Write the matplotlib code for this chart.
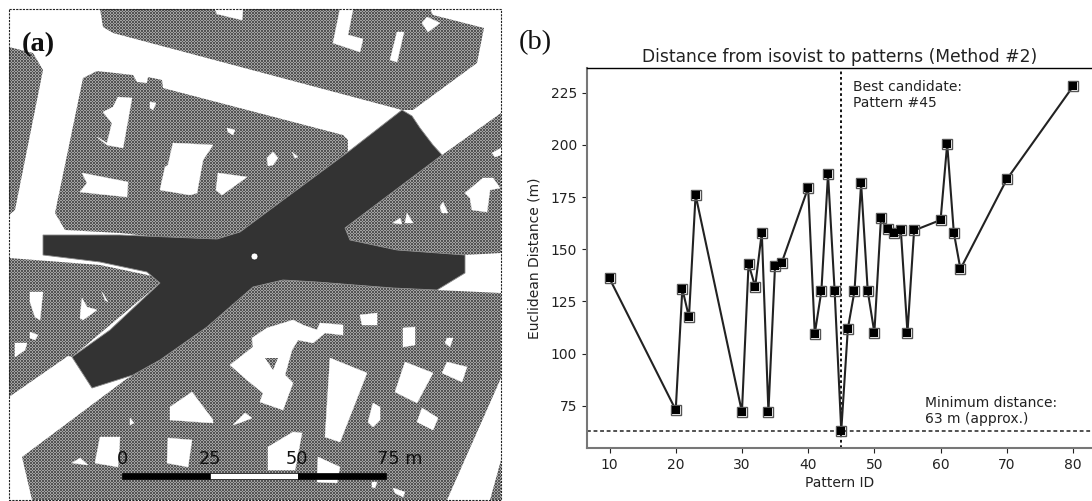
import numpy as np
import matplotlib
matplotlib.use("Agg")
import matplotlib.pyplot as plt
from matplotlib.path import Path
from matplotlib.patches import Polygon, PathPatch, Rectangle

# ---- chart (b) data ----
pattern_ids = [10, 20, 21, 22, 23, 30, 31, 32, 33, 34, 35, 36, 40, 41, 42, 43, 44, 45,
               46, 47, 48, 49, 50, 51, 52, 53, 54, 55, 56, 60, 61, 62, 63, 70, 80]
distances = [136, 73, 131, 117.5, 176, 72, 143, 132, 158, 72, 142, 143.5, 179.5, 109.5,
             130, 186, 130, 63, 112, 130, 181.5, 130, 110, 165, 159.5, 158, 159, 110,
             159, 164, 200.5, 158, 140.5, 183.5, 228]
best_id = 45
min_dist = 63
x_ticks = [10, 20, 30, 40, 50, 60, 70, 80]
y_ticks = [75, 100, 125, 150, 175, 200, 225]
title = "Distance from isovist to patterns (Method #2)"
scale_labels = ["0", "25", "50", "75 m"]

# ---- map (a) outlines, in image pixels ----
blocks = [
    [(100,9),(103,27),(113,33),(402,110),(413,110),(477,63),(484,28),(433,15),(430,9)],
    [(9,47),(33,53),(43,70),(15,210),(9,215)],
    [(83,78),(97,71),(133,75),(137,82),(147,83),(148,77),(162,80),(163,88),(343,135),
     (348,140),(348,152),(283,200),(240,232),(217,239),(157,237),(120,233),(65,230),(55,213)],
    [(442,155),(501,113),(501,253),(465,255),(397,250),(350,240),(345,228)],
    [(9,258),(100,265),(157,277),(160,283),(72,357),(68,356),(9,397)],
    [(22,457),(125,380),(133,375),(160,360),(207,327),(253,287),(283,280),(317,282),
     (393,288),(437,290),(501,293),(501,378),(447,500),(32,500)],
    [(501,460),(490,500),(501,500)],
]
holes = [
    [(215,9),(243,9),(242,20),(217,14)],
    [(340,9),(353,9),(348,35),(363,39),(360,52),(333,43)],
    [(397,32),(404,32),(397,62),(390,60)],
    [(427,17),(440,23),(428,32),(422,23)],
    [(118,97),(132,98),(123,148),(107,145),(97,137),(107,143),(112,123),(103,112),(113,107)],
    [(150,102),(156,103),(153,110),(150,108)],
    [(227,128),(235,130),(233,135),(228,132)],
    [(173,143),(213,145),(203,160),(197,193),(190,195),(160,190),(165,167),(168,165)],
    [(267,158),(273,152),(278,158),(273,165),(268,166)],
    [(292,152),(298,157),(295,158)],
    [(82,173),(128,182),(127,197),(80,192),(87,183)],
    [(218,173),(247,177),(222,195),(216,190)],
    [(492,153),(501,148),(501,155),(495,157)],
    [(465,193),(483,178),(493,178),(500,188),(490,190),(487,212),(472,210),(470,198)],
    [(443,202),(448,213),(442,213),(440,207)],
    [(407,213),(413,223),(405,223)],
    [(393,223),(400,218),(402,224)],
    [(30,292),(43,292),(40,320),(35,317),(30,302)],
    [(82,298),(87,307),(97,310),(83,320),(80,318)],
    [(102,292),(108,302),(105,300)],
    [(30,332),(38,335),(35,340),(30,338)],
    [(15,343),(27,343),(25,350),(15,357)],
    [(267,328),(293,320),(303,325),(317,330),(320,323),(343,325),(343,335),(325,333),
     (313,343),(298,340),(292,350),(285,375),(293,383),(283,410),(260,402),(263,393),
     (247,380),(230,365),(253,347),(252,338)],
    [(360,315),(377,313),(377,325),(362,325)],
    [(403,328),(415,327),(415,345),(403,347)],
    [(447,338),(453,338),(450,347),(445,343)],
    [(330,358),(367,373),(340,442),(325,437)],
    [(405,362),(433,373),(417,403),(395,392)],
    [(447,362),(467,367),(462,382),(442,373)],
    [(373,403),(380,407),(380,420),(373,427),(368,422)],
    [(422,408),(438,418),(433,430),(417,422)],
    [(192,392),(213,420),(213,423),(170,420),(170,407)],
    [(233,425),(245,413),(252,418),(242,422)],
    [(130,418),(134,423),(130,425)],
    [(100,437),(120,437),(118,467),(95,463)],
    [(168,438),(192,440),(188,467),(167,463)],
    [(268,447),(293,432),(302,433),(295,470),(268,470)],
    [(318,457),(340,467),(337,483),(317,482)],
    [(72,463),(80,458),(88,465)],
    [(372,482),(377,482),(375,488),(372,487)],
    [(393,488),(405,492),(403,497),(395,493)],
]
islands = [[(265,358),(278,358),(273,370)]]
isovist = [(402,110),(412,116),(420,128),(433,145),(442,155),(345,228),(350,240),(397,250),
           (465,255),(465,273),(437,290),(393,288),(317,282),(283,280),(253,287),(207,327),
           (160,360),(133,375),(92,388),(72,357),(110,330),(160,283),(147,272),(100,262),
           (43,255),(43,235),(120,235),(217,239),(240,232),(283,200),(348,152)]
viewpoint = (254, 256)

fig = plt.figure(figsize=(10.92, 5.01), dpi=100)
ax0 = fig.add_axes([0, 0, 1, 1])
ax0.set_xlim(0, 1092)
ax0.set_ylim(501, 0)
ax0.axis("off")

# textured ground of the blocks
jj, ii = np.mgrid[0:501, 0:1092]
tex = np.where((np.floor(ii / 1.5) + np.floor(jj / 1.5)) % 2 == 0, 0.33, 0.64)


def textured(polys, z):
    im = ax0.imshow(tex, cmap="gray", vmin=0, vmax=1, extent=(0, 1092, 501, 0),
                    interpolation="nearest", aspect="auto", zorder=z)
    verts, codes = [], []
    for poly in polys:
        verts += poly + [poly[0]]
        codes += [Path.MOVETO] + [Path.LINETO] * (len(poly) - 1) + [Path.CLOSEPOLY]
    clip = PathPatch(Path(verts, codes), transform=ax0.transData, fc="none", ec="none")
    ax0.add_patch(clip)
    im.set_clip_path(clip)


textured(blocks, 1)
for poly in holes:
    ax0.add_patch(Polygon(poly, closed=True, fc="white", ec="white", lw=0.3, zorder=2))
textured(islands, 3)
ax0.set_xlim(0, 1092)
ax0.set_ylim(501, 0)
ax0.add_patch(Polygon(isovist, closed=True, fc="#333333", ec="#8a8a8a", lw=0.6, zorder=4))
ax0.plot(*viewpoint, "o", ms=5, mfc="white", mec="#222222", mew=0.5, zorder=5)

# frame
ax0.add_patch(Rectangle((8.5, 9), 492.5, 491, fc="none", ec="#222222", lw=0.8,
                        ls=(0, (2, 1)), zorder=6))

# scale bar
bar_x = [122, 210, 298, 386]
for k in range(3):
    ax0.add_patch(Rectangle((bar_x[k], 473), bar_x[k + 1] - bar_x[k], 6, zorder=7,
                            fc="white" if k == 1 else "black", ec="black", lw=0.5))
for xp, lab in zip([122.5, 210.5, 297, 400], scale_labels):
    ax0.text(xp, 459, lab, ha="center", va="center", fontsize=12.8, color="#111111", zorder=8)

ax0.text(22, 45, "(a)", family="Liberation Serif", fontweight="bold", fontsize=20.5,
         ha="left", va="center", color="#111111", zorder=9)
ax0.text(519, 43, "(b)", family="Liberation Serif", fontsize=20.5, ha="left", va="center",
         color="#111111", zorder=9)

# chart (b)
ax = fig.add_axes([587 / 1092, 1 - 448.3 / 501, (1092 - 587) / 1092, (448.3 - 68.3) / 501])
ax.set_xlim(6.6, 82.87)
ax.set_ylim(54.6, 236.7)
ax.plot(pattern_ids, distances, "-", color="#222222", lw=1.5, zorder=3)
ax.plot(pattern_ids, distances, "s", ms=6.5, mfc="none", mec="#555555", mew=1.0, zorder=4)
ax.plot(pattern_ids, distances, "s", ms=5.2, mfc="black", mec="black", mew=0, zorder=5)
ax.axvline(best_id, color="black", lw=1.3, ls=(0, (1.5, 1.5)), zorder=2)
ax.axhline(min_dist, color="#222222", lw=1.1, ls=(0, (2.5, 1.8)), zorder=2)
ax.set_xticks(x_ticks)
ax.set_yticks(y_ticks)
ax.tick_params(labelsize=10, colors="#222222")
ax.spines["right"].set_visible(False)
ax.spines["top"].set_color("black")
ax.spines["top"].set_linewidth(1.0)
for s in ("left", "bottom"):
    ax.spines[s].set_color("#777777")
    ax.spines[s].set_linewidth(1.5)
ax.set_title(title, fontsize=12.35, color="#222222", pad=4.5)
ax.set_xlabel("Pattern ID", fontsize=10, color="#222222", labelpad=3)
ax.set_ylabel("Euclidean Distance (m)", fontsize=10, color="#222222", labelpad=6.5)
ax.text(46.8, 224, "Best candidate:\nPattern #45", fontsize=10, color="#222222", va="center")
ax.text(57.7, 72.5, "Minimum distance:\n63 m (approx.)", fontsize=10, color="#222222", va="center")

fig.savefig("out.png", dpi=100)
